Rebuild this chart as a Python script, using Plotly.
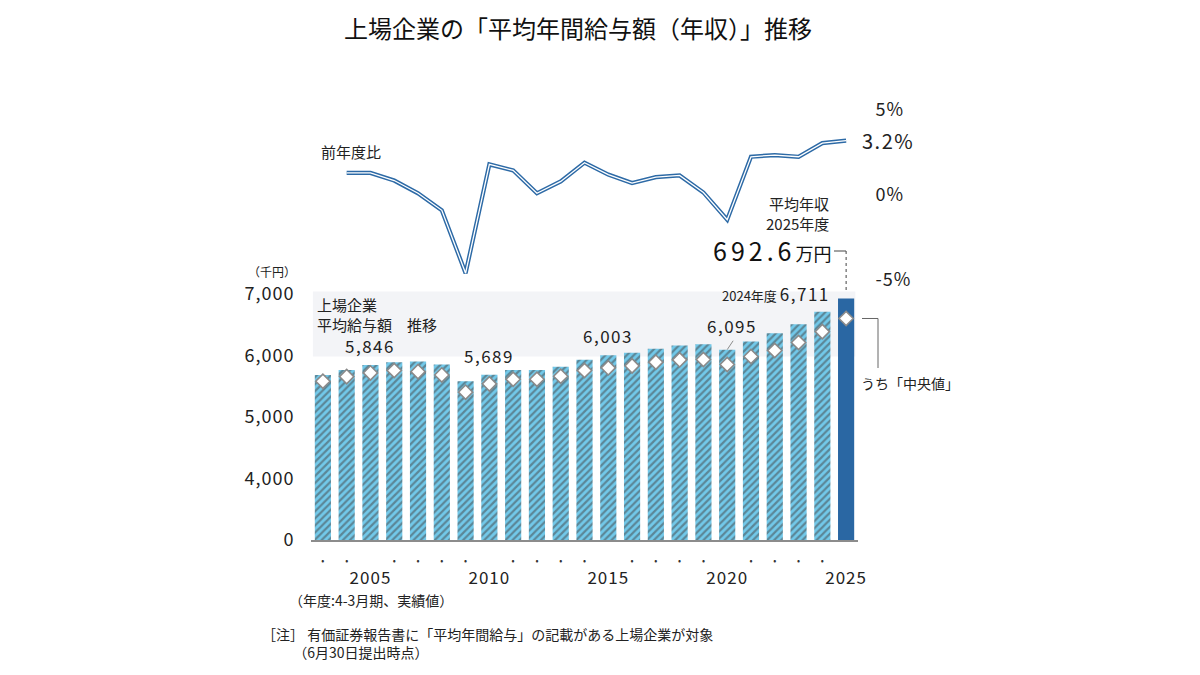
import plotly.graph_objects as go

# ---------------- data ----------------
years = list(range(2003, 2026))
avg_salary = [5684, 5765, 5846, 5892, 5903, 5854, 5581, 5689, 5765, 5765, 5819,
              5930, 6003, 6045, 6108, 6162, 6183, 6095, 6227, 6364, 6510, 6711, 6926]
median_salary = [5581, 5657, 5717, 5757, 5738, 5684, 5404, 5539, 5614, 5614, 5663,
                 5757, 5800, 5832, 5892, 5930, 5935, 5854, 5984, 6081, 6211, 6388, 6602]
yoy_years = list(range(2004, 2026))
yoy_pct = [1.3, 1.3, 0.85, 0.1, -0.9, -4.6, 1.8, 1.45, 0.1, 0.8, 1.9, 1.2,
           0.7, 1.05, 1.15, 0.15, -1.45, 2.25, 2.35, 2.25, 3.05, 3.2]
label_years = [2005, 2010, 2015, 2020, 2025]
y_tick_vals = [3000, 4000, 5000, 6000, 7000]
y_tick_text = ["0", "4,000", "5,000", "6,000", "7,000"]
pct_tick_vals = [-5, 0, 5]
pct_tick_text = ["-5%", "0%", "5%"]
value_label_years = [2005, 2010, 2015]

FONT = "Noto Sans CJK JP"
TXT = "#222222"
LIGHT = "#72c9ea"
STRIPE = "#2c84bf"
SOLID = "#2a67a3"
LINEC = "#2d6aa6"


def px(x):
    return x / 1200


def py(y):
    return 1 - y / 675


def wide(s, sp=1):
    return f"<span style='letter-spacing:{sp}px'>{s}</span>"


fig = go.Figure()

# bars
bar_colors = [LIGHT] * (len(years) - 1) + [SOLID]
bar_shapes = ["/"] * (len(years) - 1) + [""]
fig.add_trace(go.Bar(
    x=years, y=avg_salary, xaxis="x", yaxis="y",
    marker=dict(color=bar_colors, line=dict(width=0),
                pattern=dict(shape=bar_shapes, fgcolor=STRIPE, fillmode="overlay",
                             size=5, solidity=0.45)),
    width=0.68, hoverinfo="skip", showlegend=False,
))

# medians
fig.add_trace(go.Scatter(
    x=years, y=median_salary, xaxis="x3", yaxis="y", mode="markers",
    marker=dict(symbol="diamond", size=11, color="white",
                line=dict(color="#8a8a8a", width=1.6)),
    hoverinfo="skip", showlegend=False,
))

# yoy line (double line effect)
fig.add_trace(go.Scatter(
    x=yoy_years, y=yoy_pct, xaxis="x2", yaxis="y2", mode="lines",
    line=dict(color=LINEC, width=4.2), hoverinfo="skip", showlegend=False,
))
fig.add_trace(go.Scatter(
    x=yoy_years, y=yoy_pct, xaxis="x2", yaxis="y2", mode="lines",
    line=dict(color="white", width=1.3), hoverinfo="skip", showlegend=False,
))

xdom = [px(311), px(858)]
xr = [2002.5, 2025.5]

fig.update_layout(
    width=1200, height=675,
    margin=dict(l=0, r=0, t=0, b=0, pad=0, autoexpand=False),
    paper_bgcolor="white", plot_bgcolor="rgba(0,0,0,0)",
    font=dict(family=FONT, color=TXT),
    bargap=0.3,
    xaxis=dict(domain=xdom, range=xr, anchor="y", showgrid=False, zeroline=False,
               automargin=False,
               showline=True, linecolor="#8c8c8c", linewidth=1.5,
               tickmode="array",
               tickvals=[y for y in years if y not in label_years],
               ticktext=["•"] * (len(years) - len(label_years)),
               tickfont=dict(size=9, color="#333333"),
               ticks="outside", ticklen=11, tickcolor="rgba(0,0,0,0)"),
    xaxis3=dict(overlaying="x", anchor="free", position=0.2, range=xr,
                automargin=False,
                showgrid=False, zeroline=False, showline=False,
                tickmode="array", tickvals=label_years,
                ticktext=[wide(str(y), 1) for y in label_years],
                tickfont=dict(size=17, color=TXT),
                ticks="outside", ticklen=23, tickcolor="rgba(0,0,0,0)"),
    yaxis=dict(domain=[0.2, py(289.1)], range=[3000, 7080], anchor="x",
               automargin=False,
               showgrid=False, zeroline=False, showline=False,
               tickmode="array", tickvals=y_tick_vals,
               ticktext=[wide(t, 1) for t in y_tick_text],
               tickfont=dict(size=18, color=TXT),
               ticks="outside", ticklen=12, tickcolor="rgba(0,0,0,0)"),
    xaxis2=dict(domain=xdom, range=xr, anchor="y2", visible=False, automargin=False),
    yaxis2=dict(domain=[py(286.8), py(101.5)], range=[-5.4, 5.5], anchor="x2",
                automargin=False,
                side="right", showgrid=False, zeroline=False, showline=False,
                tickmode="array", tickvals=pct_tick_vals,
                ticktext=[wide(t, 1) for t in pct_tick_text],
                tickfont=dict(size=18, color=TXT),
                ticks="outside", ticklen=13, tickcolor="rgba(0,0,0,0)"),
)

shapes = []
# light grey panel behind the upper part of the bars
shapes.append(dict(type="rect", xref="x", yref="y", x0=2002.58, x1=2025.39,
                   y0=5985, y1=7040, fillcolor="#f3f4f7", line=dict(width=0),
                   layer="below"))
# leader for 6,095
shapes.append(dict(type="line", xref="x", yref="y", x0=2020, y0=6095,
                   x1=2020.25, y1=6240, line=dict(color="#8c8c8c", width=1)))
# bracket for 692.6万円
shapes.append(dict(type="line", xref="paper", yref="paper", x0=px(834), x1=px(846),
                   y0=py(251), y1=py(251), line=dict(color="#444444", width=1)))
shapes.append(dict(type="line", xref="x", yref="paper", x0=2025, x1=2025,
                   y0=py(251), y1=py(292), line=dict(color="#444444", width=1, dash="dot")))
# bracket for median label
shapes.append(dict(type="line", xref="paper", yref="y", x0=px(862), x1=px(878),
                   y0=median_salary[-1], y1=median_salary[-1],
                   line=dict(color="#666666", width=1)))
shapes.append(dict(type="line", xref="paper", yref="paper", x0=px(878), x1=px(878),
                   y0=py(318.5), y1=py(368), line=dict(color="#666666", width=1)))
fig.update_layout(shapes=shapes)

ann = []
# title
ann.append(dict(text="上場企業の「平均年間給与額（年収）」推移", x=px(578), y=py(27),
                xref="paper", yref="paper", showarrow=False,
                font=dict(size=24, color="#111111"), xanchor="center", yanchor="middle"))
ann.append(dict(text="（千円）", x=px(272), y=py(271), xref="paper", yref="paper",
                showarrow=False, font=dict(size=12), xanchor="center", yanchor="middle"))
ann.append(dict(text="上場企業<br>平均給与額　推移", x=px(315), y=py(292),
                xref="paper", yref="paper", showarrow=False, align="left",
                font=dict(size=15), xanchor="left", yanchor="top"))
ann.append(dict(text="前年度比", x=px(319), y=py(152), xref="paper", yref="paper",
                showarrow=False, font=dict(size=15), xanchor="left", yanchor="middle"))

# value labels
for yr in value_label_years:
    v = avg_salary[years.index(yr)]
    ann.append(dict(text=wide(f"{v:,}", 1.5), x=yr, y=v, xref="x", yref="y",
                    showarrow=False, font=dict(size=17), xanchor="center",
                    yanchor="bottom", yshift=5))
v2020 = avg_salary[years.index(2020)]
ann.append(dict(text=wide(f"{v2020:,}", 1.5), x=2020.2, y=v2020, xref="x", yref="y",
                showarrow=False, font=dict(size=17), xanchor="center",
                yanchor="bottom", yshift=10))
v2024 = avg_salary[years.index(2024)]
ann.append(dict(text=f"2024年度 <span style='font-size:17px;letter-spacing:1.5px'>{v2024:,}</span>",
                x=2024, y=v2024, xref="x", yref="y", showarrow=False,
                font=dict(size=13), xanchor="right", yanchor="bottom",
                xshift=10, yshift=4))

# 2025 callout
v2025 = avg_salary[-1]
ann.append(dict(text="平均年収", x=px(831), y=py(203), xref="paper",
                yref="paper", showarrow=False, font=dict(size=15),
                xanchor="right", yanchor="middle"))
ann.append(dict(text="2025年度", x=px(831), y=py(223), xref="paper",
                yref="paper", showarrow=False, font=dict(size=15),
                xanchor="right", yanchor="middle"))
ann.append(dict(text=f"<span style='letter-spacing:4px'>{v2025 / 10:.1f}</span><span style='font-size:18px'>万円</span>",
                x=px(833), y=py(250), xref="paper", yref="paper", showarrow=False,
                font=dict(size=25, color="#111111"), xanchor="right", yanchor="middle"))
ann.append(dict(text="うち「中央値」", x=px(859), y=py(383), xref="paper", yref="paper",
                showarrow=False, font=dict(size=14), xanchor="left", yanchor="middle"))

# last yoy value
ann.append(dict(text=wide(f"{yoy_pct[-1]:.1f}%", 1.5), x=yoy_years[-1], y=yoy_pct[-1],
                xref="x2", yref="y2", showarrow=False, font=dict(size=20),
                xanchor="left", yanchor="middle", xshift=14))

# footnotes
ann.append(dict(text="（年度:4-3月期、実績値）", x=px(287), y=py(600), xref="paper",
                yref="paper", showarrow=False, font=dict(size=14),
                xanchor="left", yanchor="middle"))
ann.append(dict(text="［注］ 有価証券報告書に「平均年間給与」の記載がある上場企業が対象<br>　　 （6月30日提出時点）",
                x=px(260), y=py(622), xref="paper", yref="paper", showarrow=False,
                align="left", font=dict(size=14), xanchor="left", yanchor="top"))

fig.update_layout(annotations=ann)

fig.write_html("out.html", config={"displayModeBar": False},
               post_script="document.body.style.margin='0';document.body.style.overflow='hidden';")
